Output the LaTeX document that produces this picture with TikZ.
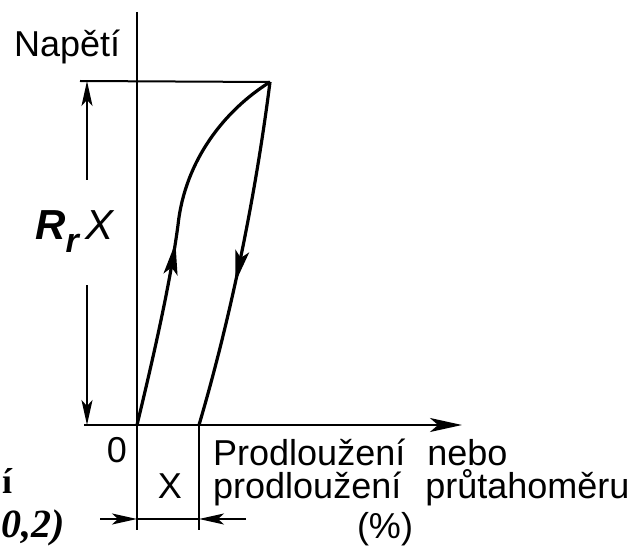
\documentclass[tikz,border=0pt]{standalone}
\usepackage{fontspec}
\setmainfont{Liberation Sans}
\newfontfamily\cutserif{Liberation Serif}
\usetikzlibrary{arrows.meta,decorations.markings}

\begin{document}
\begin{tikzpicture}[
  x=1pt, y=-1pt,
  axis/.style={line width=2pt},
  curve/.style={line width=3.2pt},
  dimline/.style={line width=1.6pt},
  dimtip/.style={-{Stealth[length=25pt,width=11pt,inset=6pt]}},
  lbl/.style={font=\fontsize{36}{42}\selectfont, inner sep=0pt},
  flowmark/.style={postaction={decorate}, decoration={markings,
    mark=at position #1 with {\arrow{Stealth[length=32pt,width=14pt,inset=7pt]}}}}
]
  \useasboundingbox (0,0) rectangle (632,548);

  % reference points
  \coordinate (O) at (137,425);
  \coordinate (ytop) at (137,12);
  \coordinate (ybot) at (137,530);
  \coordinate (xleft) at (84,425);
  \coordinate (xend) at (462,425);
  \coordinate (peak) at (270,82);
  \coordinate (hleft) at (80,81);
  \coordinate (res) at (199,425);
  \coordinate (resbot) at (199,530);
  \coordinate (dimtop) at (87,81);
  \coordinate (dimbot) at (87,425);
  \coordinate (gaptop) at (87,180);
  \coordinate (gapbot) at (87,285);
  \coordinate (dL) at (137,519);
  \coordinate (dR) at (199,519);
  \coordinate (dLout) at (100,519);
  \coordinate (dRout) at (246,519);

  % axes
  \draw[axis] (ytop) -- (ybot);
  \draw[axis, -{Stealth[length=32pt,width=14pt,inset=8pt]}] (xleft) -- (xend);
  \draw[axis] (hleft) -- (peak);
  \draw[dimline] (res) -- (resbot);

  % loading and unloading
  \draw[curve, flowmark=0.49] (O) .. controls (160,330) and (172,270) .. (178,225)
    .. controls (185,160) and (225,110) .. (peak);
  \draw[curve, flowmark=0.58] (peak) .. controls (255,200) and (230,320) .. (res);

  % dimension R_r X
  \draw[dimline, dimtip] (gaptop) -- (dimtop);
  \draw[dimline, dimtip] (gapbot) -- (dimbot);
  \node[inner sep=0pt, anchor=base west, font=\fontsize{42}{46}\selectfont] (rrx) at (35,240)
    {\textbf{\textit{R}}\raisebox{-13pt}{\fontsize{34}{38}\selectfont\textbf{\textit{r}}}\kern5pt\textit{X}};

  % dimension X
  \draw[dimline, dimtip] (dLout) -- (dL);
  \draw[dimline] (dL) -- (dR);
  \draw[dimline, dimtip] (dRout) -- (dR);

  % labels
  \node[lbl, anchor=base west] (napeti) at (14,57) {Napětí};
  \node[lbl, anchor=base] (zero) at (117,462) {0};
  \node[lbl, anchor=base] (xval) at (170,498) {X};
  \node[lbl, anchor=base west] (ext1) at (213,465) {Prodloužení\hspace{22pt}nebo};
  \node[lbl, anchor=base west] (ext2) at (213,498) {prodloužení\hspace{24pt}průtahoměru};
  \node[lbl, anchor=base] (pct) at (385,538) {(\%)};

  % cut-off text at the left edge
  \node[inner sep=0pt, anchor=base west, font=\cutserif\fontsize{36}{40}\selectfont\bfseries] (cut1) at (2,493) {í};
  \node[inner sep=0pt, anchor=base west, font=\cutserif\fontsize{40}{44}\selectfont\bfseries\itshape] (cut2) at (1,537) {0,2)};
\end{tikzpicture}
\end{document}
